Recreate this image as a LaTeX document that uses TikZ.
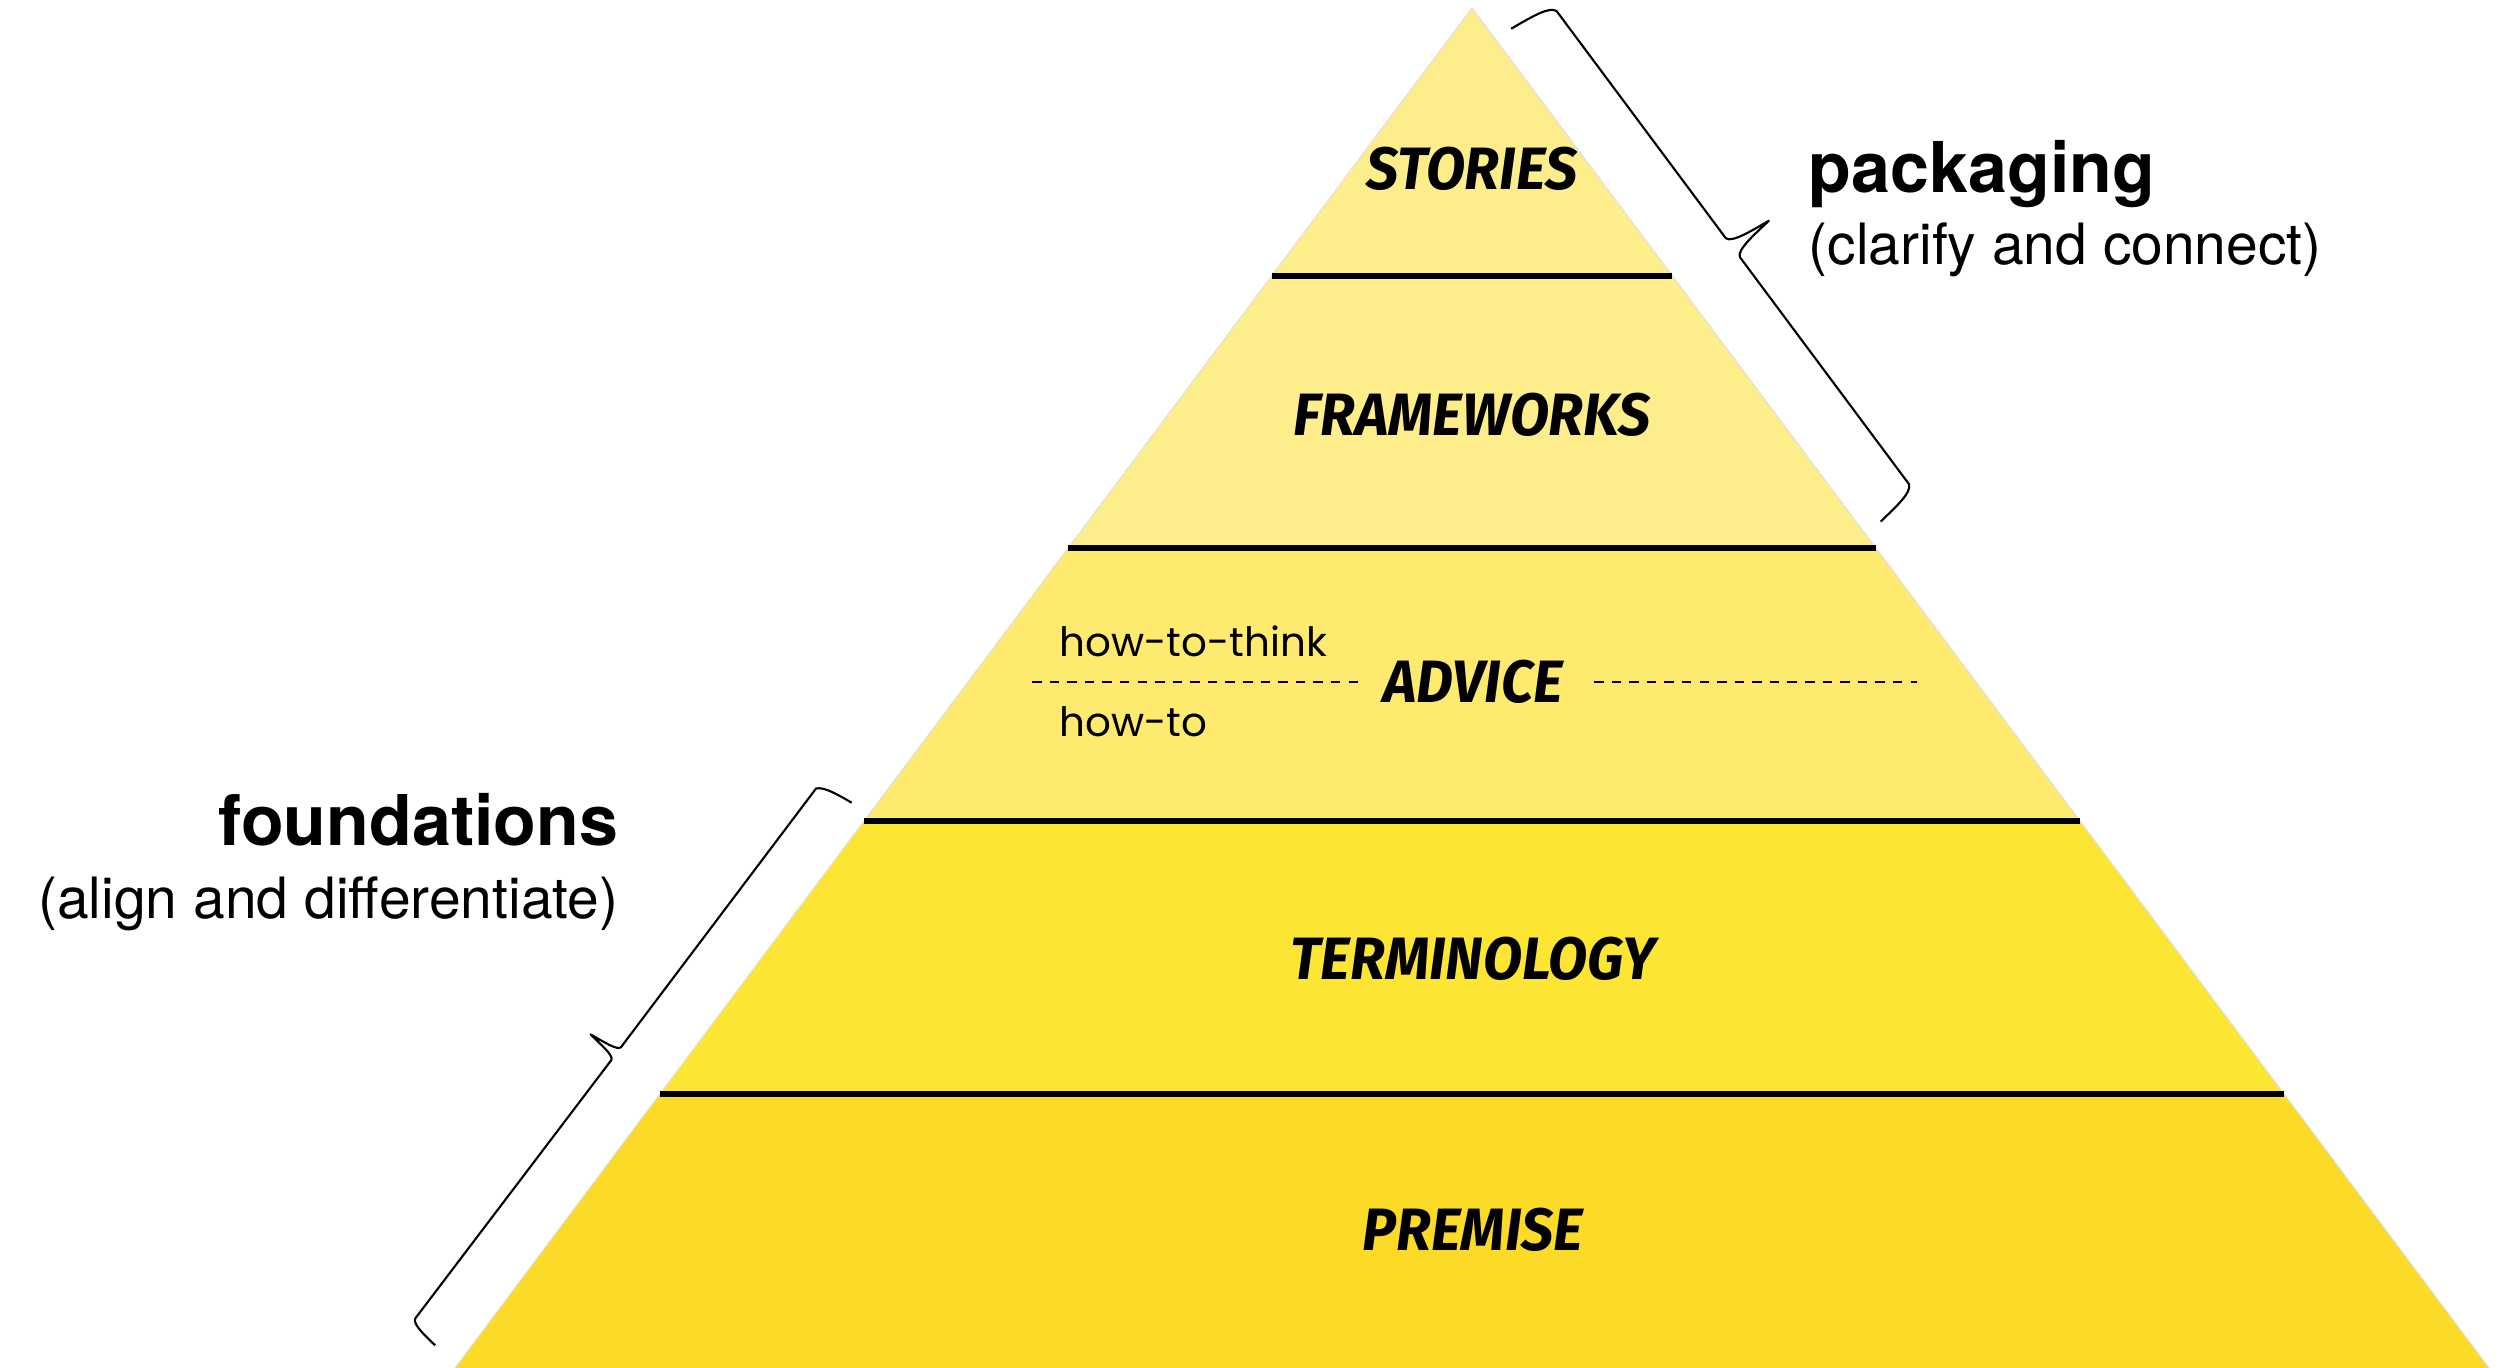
\documentclass[tikz,border=0pt]{standalone}
\usepackage{graphicx}
\usepackage{fontspec}
\setmainfont{TeX Gyre Heros}
\newfontfamily\handfont{Fira Sans}
\newfontfamily\geofont{Poppins}
\definecolor{bandA}{HTML}{FDEE8B}
\definecolor{bandB}{HTML}{FEEA6E}
\definecolor{bandC}{HTML}{FCE533}
\definecolor{bandD}{HTML}{FBDA28}
\newcommand\handtext[1]{\scalebox{0.955}[1]{#1}}
\tikzset{
  handlabel/.style={font=\handfont\bfseries\itshape\fontsize{17pt}{20pt}\selectfont, inner sep=0pt, anchor=base},
  geolabel/.style={font=\geofont\fontsize{11.5pt}{14pt}\selectfont, inner sep=0pt, anchor=base west},
  headlabel/.style={font=\bfseries\fontsize{19.9pt}{24pt}\selectfont, inner sep=0pt},
  sublabel/.style={font=\fontsize{16.2pt}{19pt}\selectfont, inner sep=0pt},
  divider/.style={line width=1.6pt, black},
  dashline/.style={line width=0.6pt, black, dash pattern=on 2.7pt off 2.3pt},
  bracepath/.style={line width=0.6pt, black, line join=round}
}
\begin{document}
\begin{tikzpicture}[x=0.01cm,y=-0.01cm]
\useasboundingbox (0,0) rectangle (2500,1368);
\fill[white] (0,0) rectangle (2500,1368);
% pyramid corners
\coordinate (apex) at (1472,8);
\coordinate (l1) at (1272,276); \coordinate (r1) at (1672,276);
\coordinate (l2) at (1068,548); \coordinate (r2) at (1876,548);
\coordinate (l3) at (864,821);  \coordinate (r3) at (2080,821);
\coordinate (l4) at (660,1094); \coordinate (r4) at (2284,1094);
\coordinate (l5) at (455,1368); \coordinate (r5) at (2489,1368);
% bands
\fill[bandA] (apex) -- (r1) -- (l1) -- cycle;
\fill[bandA] (l1) -- (r1) -- (r2) -- (l2) -- cycle;
\fill[bandB] (l2) -- (r2) -- (r3) -- (l3) -- cycle;
\fill[bandC] (l3) -- (r3) -- (r4) -- (l4) -- cycle;
\fill[bandD] (l4) -- (r4) -- (r5) -- (l5) -- cycle;
\draw[gray!25, line width=0.3pt] (l5) -- (apex) -- (r5);
% dividers
\draw[divider] (l1) -- (r1);
\draw[divider] (l2) -- (r2);
\draw[divider] (l3) -- (r3);
\draw[divider] (l4) -- (r4);
% dashed lines in advice band
\coordinate (dl1) at (1032,682); \coordinate (dl2) at (1358,682);
\coordinate (dr1) at (1594,682); \coordinate (dr2) at (1917,682);
\draw[dashline] (dl1) -- (dl2);
\draw[dashline] (dr1) -- (dr2);
% labels
\node[handlabel] (stories) at (1472,190) {\handtext{STORIES}};
\node[handlabel] (frameworks) at (1472,436) {\handtext{FRAMEWORKS}};
\node[handlabel] (advice) at (1473,703) {\handtext{ADVICE}};
\node[handlabel] (terminology) at (1473,980) {\handtext{TERMINOLOGY}};
\node[handlabel] (premise) at (1473,1250) {\handtext{PREMISE}};
\node[geolabel] (howthink) at (1059,657) {how-to-think};
\node[geolabel] (howto) at (1059,737) {how-to};
\node[headlabel, anchor=base west] (packaging) at (1808,193) {packaging};
\node[sublabel, anchor=base west] (clarify) at (1808,265) {(clarify and connect)};
\node[headlabel, anchor=base east] (foundations) at (619,846) {foundations};
\node[sublabel, anchor=base east] (align) at (619,919) {(align and differentiate)};
% packaging brace (right edge)
\begin{scope}[shift={(apex)}, rotate=-53.32]
\draw[bracepath] (40,-19) .. controls (43,-45) and (45,-63) .. (53,-66)
  -- (336,-66) .. controls (344,-67) and (346,-95) .. (348,-111)
  .. controls (350,-95) and (352,-67) .. (360,-66)
  -- (643,-66) .. controls (651,-63) and (653,-45) .. (656,-21);
\end{scope}
% foundations brace (left edge)
\begin{scope}[shift={(apex)}, rotate=-126.84]
\draw[bracepath] (1008,20) .. controls (1010,38) and (1012,52) .. (1018,57)
  -- (1342,58) .. controls (1347,59) and (1348,75) .. (1350,90)
  .. controls (1352,75) and (1353,59) .. (1358,58)
  -- (1682,60) .. controls (1688,60) and (1690,45) .. (1692,28);
\end{scope}
\end{tikzpicture}
\end{document}
